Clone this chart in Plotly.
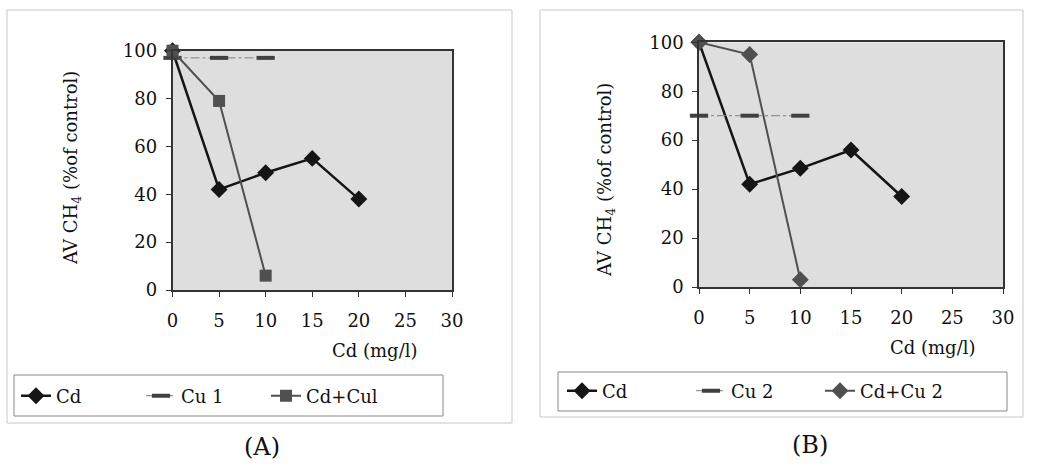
import plotly.graph_objects as go

# ---- data ----
cd_x = [0, 5, 10, 15, 20]
cd_a = [100, 42, 49, 55, 38]
cu1_x = [0, 5, 10]
cu1_y = [97, 97, 97]
cdcu1_x = [0, 5, 10]
cdcu1_y = [100, 79, 6]

cd_b = [100, 42, 48.5, 56, 37]
cu2_x = [0, 5, 10]
cu2_y = [70, 70, 70]
cdcu2_x = [0, 5, 10]
cdcu2_y = [100, 95, 3]

x_ticks = [0, 5, 10, 15, 20, 25, 30]
y_ticks = [0, 20, 40, 60, 80, 100]

FONT = "DejaVu Serif"
W, H = 1038, 469
BLACK = "#151515"
GRAY = "#505050"

fig = go.Figure()

def add_panel(xa, ya, legend, cd_y, cu_x, cu_y, cu_name, mx_x, mx_y, mx_name, mx_symbol, mx_size):
    fig.add_trace(go.Scatter(x=cd_x, y=cd_y, name="Cd", mode="lines+markers",
                             line=dict(color=BLACK, width=2.5),
                             marker=dict(symbol="diamond", size=13, color=BLACK),
                             xaxis=xa, yaxis=ya, legend=legend, cliponaxis=False))
    fig.add_trace(go.Scatter(x=cu_x, y=cu_y, name=cu_name, mode="lines+markers",
                             line=dict(color="#808080", width=1, dash="dashdot"),
                             marker=dict(symbol="line-ew", size=13,
                                         line=dict(color="#404040", width=4)),
                             xaxis=xa, yaxis=ya, legend=legend, cliponaxis=False))
    fig.add_trace(go.Scatter(x=mx_x, y=mx_y, name=mx_name, mode="lines+markers",
                             line=dict(color=GRAY, width=2),
                             marker=dict(symbol=mx_symbol, size=mx_size, color=GRAY),
                             xaxis=xa, yaxis=ya, legend=legend, cliponaxis=False))

add_panel("x", "y", "legend", cd_a, cu1_x, cu1_y, "Cu 1", cdcu1_x, cdcu1_y, "Cd+Cul", "square", 12)
add_panel("x2", "y2", "legend2", cd_b, cu2_x, cu2_y, "Cu 2", cdcu2_x, cdcu2_y, "Cd+Cu 2", "diamond", 13)

axis_common = dict(showline=True, linecolor="#333", linewidth=1.5, mirror=True,
                   showgrid=False, zeroline=False, ticks="outside", ticklen=5,
                   tickcolor="#333", tickfont=dict(family=FONT, size=18, color="#111"),
                   automargin=False)

def px_x(p):
    return p / W

def px_y(p):
    return 1 - p / H

fig.update_layout(
    width=W, height=H,
    margin=dict(l=0, r=0, t=0, b=0, autoexpand=False),
    paper_bgcolor="white",
    plot_bgcolor="#dedede",
    xaxis=dict(domain=[px_x(172.5), px_x(452)], range=[0, 30], tickvals=x_ticks,
               anchor="y", ticklabelstandoff=9, **axis_common),
    yaxis=dict(domain=[px_y(290), px_y(50.7)], range=[0, 100], tickvals=y_ticks,
               anchor="x", ticklabelstandoff=5, **axis_common),
    xaxis2=dict(domain=[px_x(699), px_x(1003)], range=[0, 30], tickvals=x_ticks,
                anchor="y2", ticklabelstandoff=9, **axis_common),
    yaxis2=dict(domain=[px_y(287), px_y(42.3)], range=[0, 100], tickvals=y_ticks,
                anchor="x2", ticklabelstandoff=5, **axis_common),
    showlegend=True,
    legend=dict(orientation="h", x=px_x(16), y=px_y(396), xanchor="left", yanchor="middle",
                bgcolor="rgba(0,0,0,0)", borderwidth=0, entrywidth=80, itemwidth=30,
                font=dict(family=FONT, size=18, color="#111")),
    legend2=dict(orientation="h", x=px_x(562), y=px_y(391), xanchor="left", yanchor="middle",
                 bgcolor="rgba(0,0,0,0)", borderwidth=0, entrywidth=84, itemwidth=30,
                 font=dict(family=FONT, size=18, color="#111")),
)

# outer frames and legend boxes
for (x0, y0, x1, y1, col) in [(7, 10, 512, 423, "#c8c8c8"), (540, 10, 1023, 417, "#c8c8c8"),
                              (14, 375, 443, 416, "#888"), (558, 372, 1007, 411, "#888")]:
    fig.add_shape(type="rect", xref="paper", yref="paper",
                  x0=px_x(x0), x1=px_x(x1), y0=px_y(y1), y1=px_y(y0),
                  line=dict(color=col, width=1), layer="below")

ytitle = "AV CH<sub>4</sub> (%of control)"
for (x, y, text, angle, size) in [
    (72, 168, ytitle, -90, 18), (606, 180, ytitle, -90, 18),
    (374, 350, "Cd (mg/l)", 0, 18), (932, 347, "Cd (mg/l)", 0, 18),
    (262, 447, "(A)", 0, 24), (810, 445, "(B)", 0, 24)]:
    fig.add_annotation(x=px_x(x), y=px_y(y), xref="paper", yref="paper", text=text,
                       textangle=angle, showarrow=False, xanchor="center", yanchor="middle",
                       font=dict(family=FONT, size=size, color="#111"))

fig.write_html("out.html")
